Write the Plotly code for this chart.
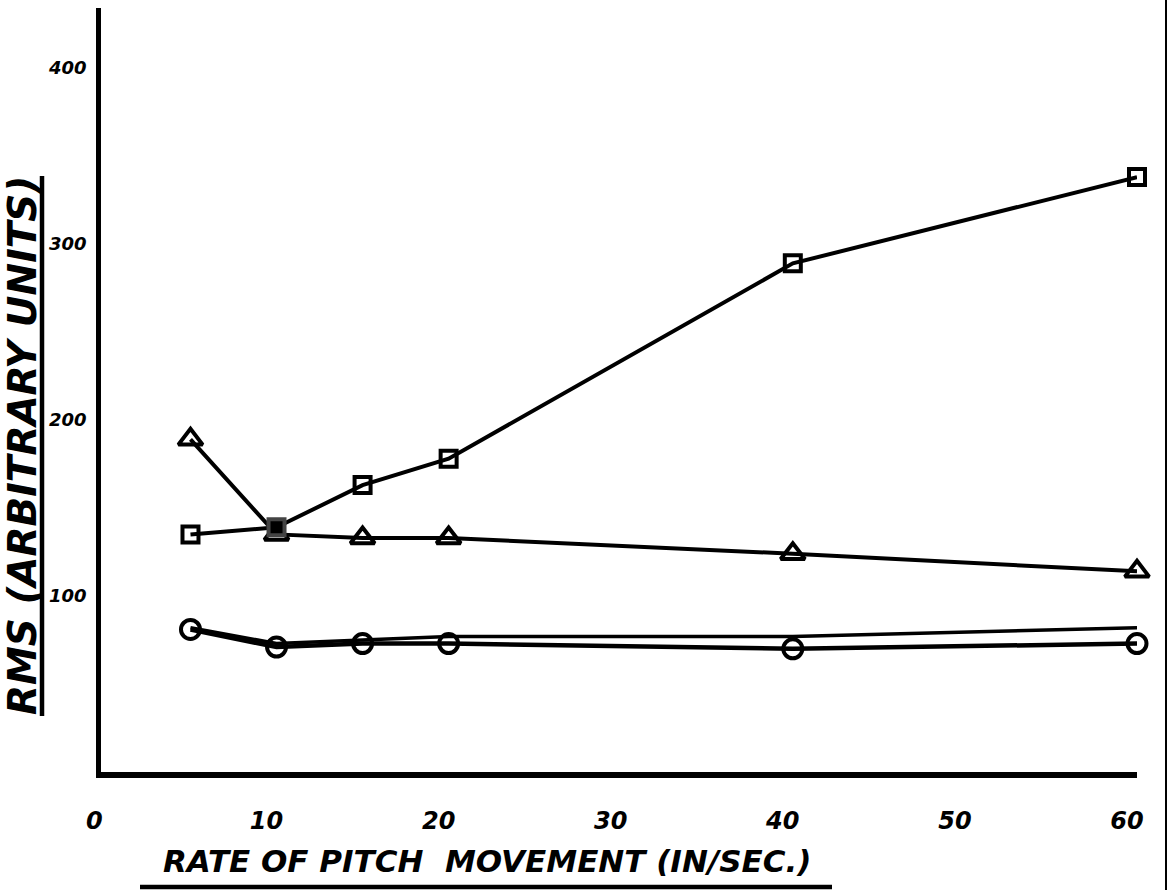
import plotly.graph_objects as go

# Pitch movement rate (in/sec) at which each response was measured
rate = [5, 10, 15, 20, 40, 60]

# RMS response, arbitrary units
rms_square = [135, 139, 163, 178, 289, 338]
rms_triangle = [189, 135, 133, 133, 124, 114]
rms_circle = [81, 71, 73, 73, 70, 73]
rms_plain = [82, 73, 75, 77, 77, 82]

x_ticks = [0, 10, 20, 30, 40, 50, 60]
y_ticks = [100, 200, 300, 400]

INK = "#000000"
HAND = "DejaVu Sans"

W, H = 1176, 890
L, R, T, B = 101, 39, 8, 118
PW, PH = W - L - R, H - T - B


def px(x):
    return (x - L) / PW


def py(y):
    return (H - B - y) / PH


fig = go.Figure()

fig.add_trace(go.Scatter(
    x=rate, y=rms_plain, mode="lines", name="plain",
    line=dict(color=INK, width=3.5), cliponaxis=False,
))
fig.add_trace(go.Scatter(
    x=rate, y=rms_circle, mode="lines+markers", name="circle",
    line=dict(color=INK, width=4.5),
    marker=dict(symbol="circle-open", size=19, color=INK, line=dict(width=4)),
    cliponaxis=False,
))
fig.add_trace(go.Scatter(
    x=rate, y=rms_triangle, mode="lines+markers", name="triangle",
    line=dict(color=INK, width=4),
    marker=dict(symbol="triangle-up-open", size=21, color=INK, line=dict(width=4)),
    cliponaxis=False,
))
fig.add_trace(go.Scatter(
    x=rate, y=rms_square, mode="lines+markers", name="square",
    line=dict(color=INK, width=4),
    marker=dict(
        symbol=["square-open", "square", "square-open", "square-open", "square-open", "square-open"],
        size=16, color=INK, line=dict(width=4),
    ),
    cliponaxis=False,
))

# Hand-lettered axis titles with their underlines
fig.add_annotation(
    text="RMS (ARBITRARY UNITS)", textangle=-90,
    x=px(22), y=py(446), xref="paper", yref="paper",
    showarrow=False, xanchor="center", yanchor="middle",
    font=dict(family=HAND, size=39, color=INK, style="italic", weight="bold"),
)
fig.add_shape(type="line", xref="paper", yref="paper",
              x0=px(42), x1=px(42), y0=py(176), y1=py(716),
              line=dict(color=INK, width=4.5))

fig.add_annotation(
    text="RATE OF PITCH  MOVEMENT (IN/SEC.)",
    x=px(487), y=py(861), xref="paper", yref="paper",
    showarrow=False, xanchor="center", yanchor="middle",
    font=dict(family=HAND, size=31, color=INK, style="italic", weight="bold"),
)
fig.add_shape(type="line", xref="paper", yref="paper",
              x0=px(140), x1=px(832), y0=py(887), y1=py(887),
              line=dict(color=INK, width=4.5))

# Sheet edge on the right
fig.add_shape(type="line", xref="paper", yref="paper",
              x0=px(1166), x1=px(1166), y0=py(0), y1=py(H),
              line=dict(color=INK, width=2))

fig.update_xaxes(
    range=[-0.2, 60.0], tickvals=x_ticks, ticktext=[str(v) for v in x_ticks],
    showline=True, linecolor=INK, linewidth=6, showgrid=False, zeroline=False,
    ticks="", ticklabelstandoff=22, ticklabelshift=-10,
    tickfont=dict(family=HAND, size=24, color=INK, style="italic", weight="bold"),
)
fig.update_yaxes(
    range=[0, (H - B - T) / 1.76], tickvals=y_ticks, ticktext=[str(v) for v in y_ticks],
    showline=True, linecolor=INK, linewidth=4.5, showgrid=False, zeroline=False,
    ticks="", ticklabelstandoff=6,
    tickfont=dict(family=HAND, size=18, color=INK, style="italic", weight="bold"),
)

fig.update_layout(
    width=W, height=H,
    margin=dict(l=L, r=R, t=T, b=B),
    paper_bgcolor="white", plot_bgcolor="white",
    showlegend=False,
)

fig.write_html("out.html")
